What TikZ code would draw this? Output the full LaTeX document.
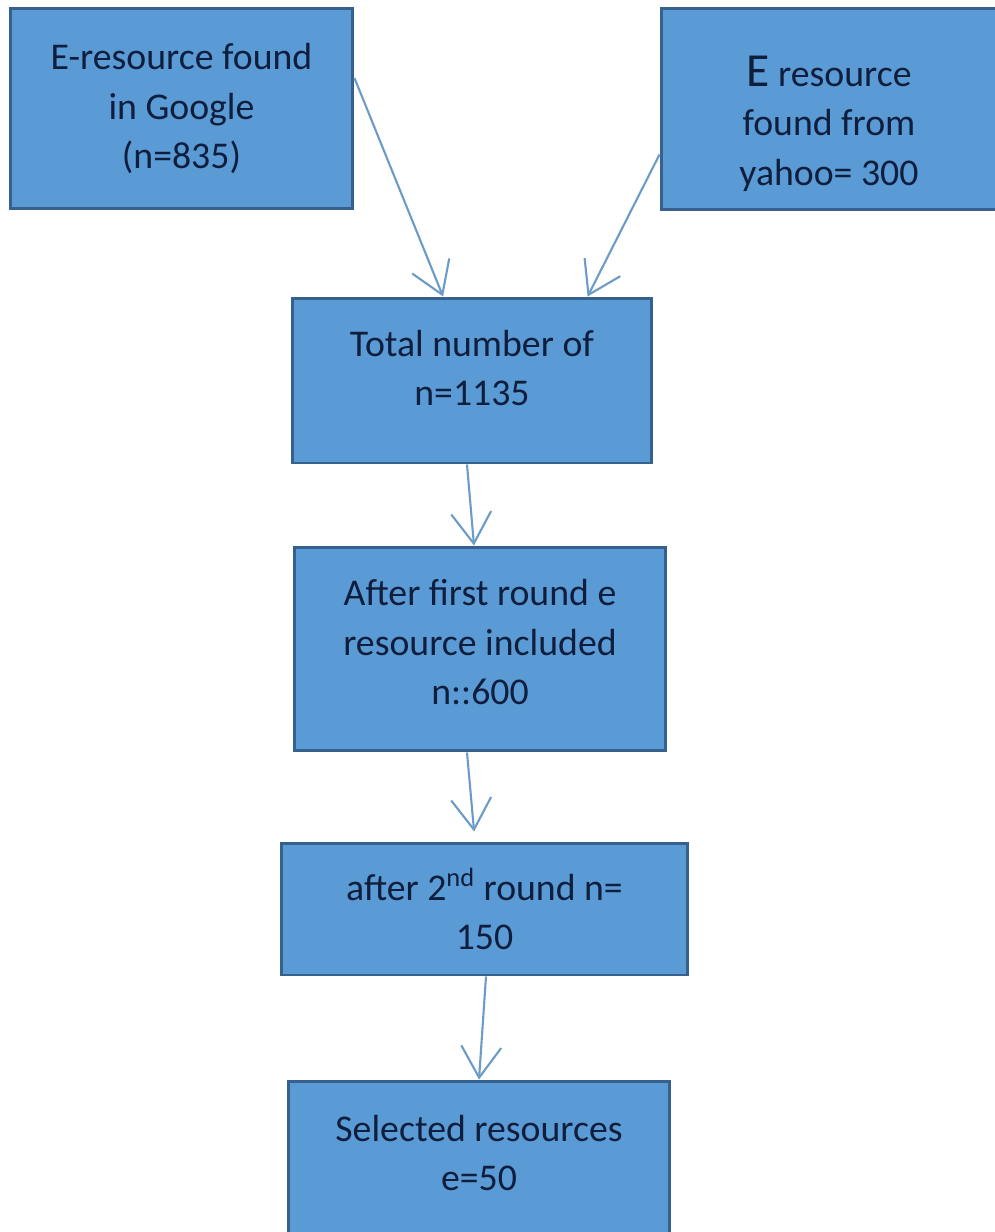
\documentclass[tikz,border=0pt]{standalone}
\usepackage{fontspec}
\setmainfont{Carlito}
\usetikzlibrary{arrows.meta}
\definecolor{boxfill}{HTML}{5B9BD5}
\definecolor{boxline}{HTML}{35618C}
\definecolor{arrowline}{HTML}{6C9BC8}
\definecolor{boxtext}{HTML}{0F1E3C}
\begin{document}
\begin{tikzpicture}[x=0.02cm,y=-0.02cm,
    stagebox/.style={draw=boxline, line width=1.7pt, fill=boxfill, text=boxtext,
        align=center, inner sep=0pt,
        font=\fontsize{21.5}{28}\selectfont},
    flow/.style={draw=arrowline, line width=1.2pt,
        -{Straight Barb[length=0.62cm, width=0.8cm, line width=1.2pt]}}]
    \useasboundingbox (0,0) rectangle (995,1232);

    % sources
    \node[stagebox, minimum width=6.86cm, minimum height=4.02cm] (google) at (181.5,108.5)
        {E-resource found\\in Google\\(n=835)};
    \node[stagebox, minimum width=6.72cm, minimum height=4.04cm] (yahoo) at (829,109)
        {\rule{0pt}{34pt}{\fontsize{27}{28}\selectfont E} resource\\found from\\yahoo= 300};

    % screening stages
    \node[stagebox, minimum width=7.2cm, minimum height=3.3cm] (total) at (472,380.5)
        {Total number of\\n=1135\\[-14pt]};
    \node[stagebox, minimum width=7.44cm, minimum height=4.08cm] (first) at (480,649)
        {After first round e\\resource included\\n::600\\[-20pt]};
    \node[stagebox, minimum width=8.14cm, minimum height=2.64cm] (second) at (484.5,909)
        {after 2\textsuperscript{nd} round n=\\150};
    \node[stagebox, minimum width=7.64cm, minimum height=3.08cm] (selected) at (479,1158)
        {Selected resources\\e=50\\[-22pt]};

    % connectors
    \draw[flow] (google.10) -- (total.109);
    \draw[flow] (yahoo.195) -- (total.36);
    \draw[flow] ([xshift=-0.1cm]total.south) -- ([xshift=-0.12cm]first.north);
    \draw[flow, shorten >=0.2cm] ([xshift=-0.26cm]first.south) -- ([xshift=-0.19cm]second.north);
    \draw[flow] ([xshift=0.03cm]second.south) -- (selected.north);
\end{tikzpicture}
\end{document}
